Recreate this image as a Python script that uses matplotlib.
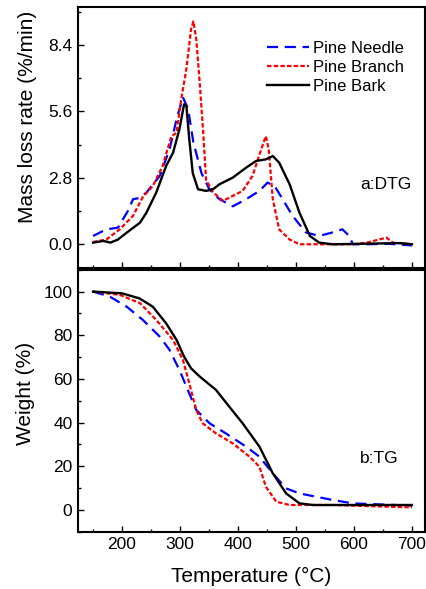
import matplotlib

matplotlib.use("Agg")
import matplotlib.pyplot as plt
from matplotlib.ticker import MultipleLocator

plt.rcParams["font.family"] = ["Liberation Sans", "DejaVu Sans"]

# DTG curves (temperature in degC, mass loss rate in %/min)
needle_dtg_t = [150, 173, 193, 210, 219, 230, 242, 265, 282, 294, 305, 314, 323, 337, 351,
                368, 391, 414, 437, 451, 463, 477, 494, 517, 540, 563, 580, 592, 598, 620, 660, 700]
needle_dtg = [0.35, 0.63, 0.7, 1.4, 1.9, 1.95, 2.18, 2.88, 4.0, 5.27, 6.2, 5.7, 4.3, 3.0, 2.3,
              1.9, 1.6, 1.9, 2.25, 2.6, 2.46, 1.9, 1.2, 0.5, 0.35, 0.5, 0.63, 0.35, 0.0, 0.0, 0.02, -0.05]

branch_dtg_t = [150, 173, 196, 219, 236, 253, 270, 285, 294, 302, 311, 319, 323, 328, 334, 340,
                345, 357, 374, 391, 408, 425, 440, 448, 453, 460, 471, 489, 506, 600, 622, 656, 667, 700]
branch_dtg = [0.1, 0.2, 0.63, 1.2, 2.0, 2.45, 3.3, 4.55, 4.7, 6.1, 7.4, 9.06, 9.4, 8.65, 6.8, 4.7,
              2.7, 2.2, 1.83, 2.04, 2.25, 2.88, 4.0, 4.56, 4.0, 1.9, 0.63, 0.2, 0.0, 0.0, 0.07, 0.28, 0.07, 0.0]

bark_dtg_t = [150, 168, 180, 193, 208, 231, 242, 259, 276, 288, 299, 307, 311, 316, 322, 331,
              345, 357, 368, 391, 414, 431, 448, 460, 471, 489, 506, 524, 540, 563, 680, 700]
bark_dtg = [0.07, 0.14, 0.07, 0.2, 0.49, 0.91, 1.33, 2.18, 3.3, 3.86, 4.85, 5.9, 5.83, 4.42, 3.0, 2.32,
            2.25, 2.32, 2.53, 2.81, 3.23, 3.51, 3.58, 3.72, 3.44, 2.53, 1.33, 0.35, 0.07, 0.0, 0.05, 0.0]

# TG curves (weight %)
needle_tg_t = [150, 179, 208, 236, 265, 282, 299, 311, 328, 351, 379, 414, 437, 460, 483, 506, 563, 598, 700]
needle_tg = [100, 97.7, 93.1, 87.0, 79.4, 73.3, 64.1, 56.5, 45.8, 39.7, 35.1, 29.0, 24.4, 16.8, 9.9, 7.6, 4.6, 3.05, 2.0]

branch_tg_t = [150, 196, 231, 259, 288, 305, 316, 328, 339, 362, 391, 420, 437, 448, 466, 489, 563, 700]
branch_tg = [100, 98.5, 94.7, 87.0, 77.9, 68.7, 58.0, 45.8, 39.7, 35.1, 30.5, 24.4, 19.8, 10.7, 3.8, 2.3, 2.3, 1.2]

bark_tg_t = [150, 200, 230, 253, 276, 294, 307, 319, 334, 362, 385, 408, 437, 460, 483, 506, 529, 700]
bark_tg = [100, 99.2, 96.9, 93.1, 85.5, 77.9, 70.2, 64.9, 61.1, 55.0, 47.3, 39.7, 29.0, 16.8, 7.6, 3.05, 2.3, 2.3]

labels = ["Pine Needle", "Pine Branch", "Pine Bark"]

fig = plt.figure(figsize=(4.26, 5.89), dpi=100)
ax1 = fig.add_axes([0.183, 0.545, 0.814, 0.443])
ax2 = fig.add_axes([0.183, 0.097, 0.814, 0.445])

needle_style = dict(color="#0000ff", lw=1.6, ls=(0, (5, 3)))
branch_style = dict(color="#ff0000", lw=1.6, ls=(0, (2, 1)))
bark_style = dict(color="black", lw=1.7, ls="-")

ax1.plot(needle_dtg_t, needle_dtg, label=labels[0], **needle_style)
ax1.plot(branch_dtg_t, branch_dtg, label=labels[1], **branch_style)
ax1.plot(bark_dtg_t, bark_dtg, label=labels[2], **bark_style)

ax2.plot(needle_tg_t, needle_tg, **needle_style)
ax2.plot(branch_tg_t, branch_tg, **branch_style)
ax2.plot(bark_tg_t, bark_tg, **bark_style)

for ax in (ax1, ax2):
    ax.set_xlim(124, 722)
    ax.xaxis.set_major_locator(MultipleLocator(100))
    ax.xaxis.set_minor_locator(MultipleLocator(50))
    ax.tick_params(which="both", direction="in", labelsize=12.5, pad=4)
    ax.tick_params(which="major", length=4, width=1)
    ax.tick_params(which="minor", length=2.5, width=1)
    for sp in ax.spines.values():
        sp.set_linewidth(1.5)

ax1.set_ylim(-1, 10)
ax1.yaxis.set_minor_locator(MultipleLocator(1.4))
ax1.set_yticks([0, 2.8, 5.6, 8.4])
ax1.set_yticklabels(["0.0", "2.8", "5.6", "8.4"])
ax1.tick_params(axis="x", labelbottom=False)
ax1.set_ylabel("Mass loss rate (%/min)", fontsize=15)
ax1.yaxis.set_label_coords(-0.118, 0.58)
ax1.text(610, 2.5, "a:DTG", fontsize=12.5, va="center")
ax1.legend(loc="upper left", bbox_to_anchor=(0.545, 0.87), frameon=False,
           fontsize=12, handlelength=2.5, handletextpad=0.25, labelspacing=0.25,
           borderpad=0, borderaxespad=0)

ax2.set_ylim(-10, 110)
ax2.yaxis.set_major_locator(MultipleLocator(20))
ax2.yaxis.set_minor_locator(MultipleLocator(10))
ax2.set_ylabel("Weight (%)", fontsize=15)
ax2.yaxis.set_label_coords(-0.124, 0.527)
ax2.set_xlabel("Temperature (\u00b0C)", fontsize=15)
ax2.xaxis.set_label_coords(0.5, -0.135)
ax2.text(610, 23.8, "b:TG", fontsize=12.5, va="center")

fig.savefig("out.png", dpi=100)
